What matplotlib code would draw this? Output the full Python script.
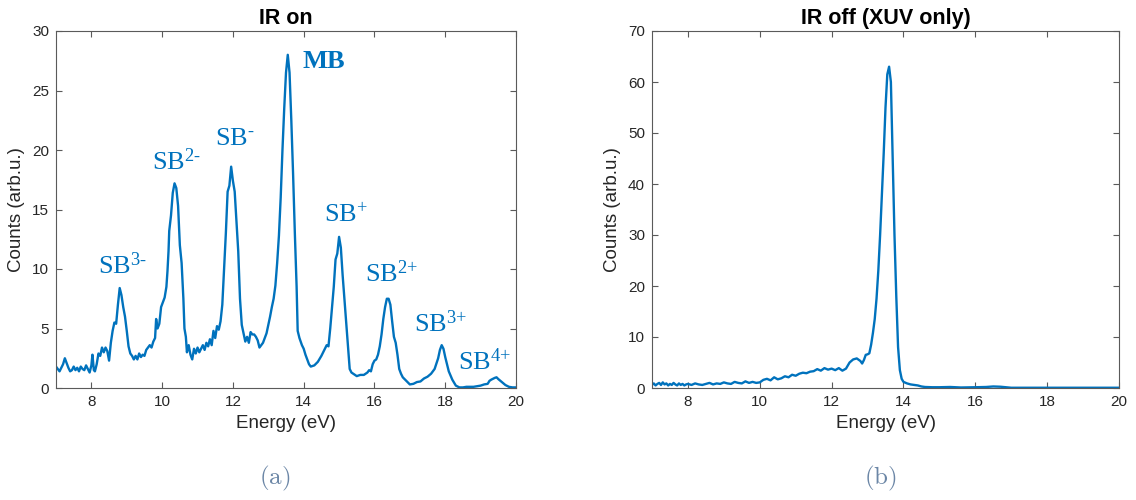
import matplotlib
matplotlib.use("Agg")
import matplotlib.pyplot as plt

# ---- data: IR on ----
energy_on = [7.0, 7.05, 7.1, 7.15, 7.2, 7.25, 7.3, 7.35, 7.4, 7.45, 7.5, 7.55, 7.6, 7.65, 7.7, 7.75,
             7.8, 7.85, 7.9, 7.95, 8.0, 8.03, 8.07, 8.1, 8.15, 8.2, 8.25, 8.3, 8.35, 8.4, 8.45, 8.5,
             8.55, 8.6, 8.65, 8.7, 8.75, 8.8, 8.85, 8.9, 8.95, 9.0, 9.05, 9.1, 9.15, 9.2, 9.25, 9.3,
             9.35, 9.4, 9.45, 9.5, 9.55, 9.6, 9.65, 9.7, 9.75, 9.8, 9.83, 9.87, 9.92, 9.97, 10.02,
             10.07, 10.12, 10.15, 10.18, 10.2, 10.25, 10.3, 10.35, 10.4, 10.45, 10.5, 10.55, 10.6,
             10.63, 10.67, 10.7, 10.75, 10.8, 10.85, 10.9, 10.95, 11.0, 11.05, 11.1, 11.15, 11.2,
             11.25, 11.3, 11.35, 11.4, 11.45, 11.5, 11.55, 11.6, 11.65, 11.7, 11.75, 11.8, 11.85,
             11.9, 11.95, 12.0, 12.05, 12.1, 12.15, 12.2, 12.25, 12.3, 12.35, 12.4, 12.45, 12.5,
             12.55, 12.6, 12.65, 12.7, 12.75, 12.8, 12.85, 12.9, 12.95, 13.0, 13.05, 13.1, 13.15,
             13.2, 13.25, 13.3, 13.35, 13.4, 13.45, 13.5, 13.55, 13.6, 13.65, 13.7, 13.75, 13.8,
             13.83, 13.88, 13.95, 14.0, 14.05, 14.1, 14.15, 14.2, 14.3, 14.4, 14.5, 14.6, 14.65,
             14.7, 14.75, 14.8, 14.85, 14.9, 14.95, 15.0, 15.05, 15.1, 15.15, 15.2, 15.25, 15.3,
             15.35, 15.4, 15.5, 15.6, 15.7, 15.8, 15.85, 15.9, 15.95, 16.0, 16.05, 16.1, 16.15,
             16.2, 16.25, 16.3, 16.35, 16.4, 16.45, 16.5, 16.55, 16.6, 16.65, 16.7, 16.75, 16.8,
             16.9, 17.0, 17.1, 17.2, 17.3, 17.4, 17.5, 17.6, 17.7, 17.8, 17.85, 17.9, 17.95, 18.0,
             18.05, 18.1, 18.2, 18.3, 18.4, 18.5, 18.6, 18.8, 18.9, 19.0, 19.1, 19.2, 19.25, 19.3,
             19.4, 19.45, 19.5, 19.6, 19.7, 19.8, 19.9, 20.0]
counts_on = [1.8, 1.6, 1.4, 1.7, 2.0, 2.5, 2.1, 1.7, 1.4, 1.5, 1.8, 1.5, 1.7, 1.4, 1.8, 1.6,
             1.5, 1.9, 1.6, 1.3, 1.9, 2.8, 1.5, 1.4, 2.0, 2.9, 2.7, 3.4, 3.0, 3.4, 3.1, 2.3,
             3.8, 4.8, 5.5, 5.4, 7.0, 8.4, 7.8, 6.8, 6.0, 4.8, 3.5, 2.9, 2.7, 2.4, 2.7, 2.4,
             2.9, 2.6, 2.8, 2.7, 3.2, 3.4, 3.6, 3.4, 3.9, 4.2, 5.8, 5.0, 5.4, 6.8, 7.2,
             7.6, 8.5, 9.8, 11.5, 13.2, 14.5, 16.4, 17.2, 16.8, 15.3, 12.0, 10.5, 7.5,
             5.0, 4.3, 3.0, 3.6, 2.8, 2.4, 3.3, 2.9, 3.4, 3.0, 3.3, 3.6, 3.2,
             3.8, 3.5, 4.1, 3.6, 4.8, 4.2, 5.2, 4.9, 5.6, 7.0, 10.0, 13.0, 16.5,
             17.0, 18.6, 17.4, 16.5, 14.0, 11.5, 7.5, 5.3, 4.6, 3.9, 4.3, 3.8, 4.7,
             4.5, 4.5, 4.3, 4.0, 3.4, 3.6, 3.8, 4.2, 4.6, 5.3, 6.0, 6.8, 7.5,
             8.6, 10.5, 12.8, 16.0, 20.0, 23.5, 26.5, 28.0, 26.5, 22.5, 18.0, 13.0, 8.5,
             4.8, 4.2, 3.6, 3.3, 2.8, 2.4, 2.0, 1.8, 1.9, 2.2, 2.7, 3.3, 3.6,
             3.5, 5.0, 6.8, 8.5, 10.8, 11.3, 12.7, 11.8, 9.5, 7.5, 5.5, 3.5, 1.6,
             1.3, 1.2, 1.0, 1.1, 1.1, 1.3, 1.5, 1.4, 2.0, 2.3, 2.4, 2.8, 3.5,
             4.5, 5.8, 6.8, 7.5, 7.5, 7.0, 5.6, 4.3, 3.8, 2.8, 1.6, 1.2, 0.9,
             0.6, 0.3, 0.35, 0.5, 0.55, 0.8, 0.95, 1.2, 1.6, 2.5, 3.2, 3.6, 3.3, 2.6,
             2.0, 1.4, 0.7, 0.2, 0.05, 0.05, 0.1, 0.1, 0.15, 0.2, 0.3, 0.35, 0.6, 0.7,
             0.85, 0.9, 0.75, 0.5, 0.25, 0.1, 0.05, 0.05]

# ---- data: IR off (XUV only) ----
energy_off = [7.0, 7.05, 7.1, 7.15, 7.2, 7.25, 7.3, 7.35, 7.4, 7.45, 7.5, 7.55, 7.6, 7.65, 7.7,
              7.75, 7.8, 7.85, 7.9, 7.95, 8.0, 8.1, 8.2, 8.3, 8.4, 8.5, 8.6, 8.7, 8.8, 8.9,
              9.0, 9.1, 9.2, 9.3, 9.4, 9.5, 9.6, 9.7, 9.8, 9.9, 10.0, 10.1, 10.2, 10.3, 10.4,
              10.5, 10.6, 10.7, 10.8, 10.9, 11.0, 11.1, 11.2, 11.3, 11.4, 11.5, 11.6, 11.7,
              11.8, 11.9, 12.0, 12.1, 12.2, 12.3, 12.4, 12.5, 12.6, 12.7, 12.8, 12.85, 12.9,
              12.95, 13.0, 13.05, 13.1, 13.15, 13.2, 13.25, 13.3, 13.35, 13.4, 13.45, 13.5,
              13.55, 13.6, 13.65, 13.7, 13.75, 13.8, 13.85, 13.9, 13.95, 14.0, 14.1, 14.2,
              14.3, 14.4, 14.5, 14.6, 14.8, 15.0, 15.3, 15.6, 16.0, 16.3, 16.5, 16.7, 17.0,
              17.5, 18.0, 18.5, 19.0, 19.5, 20.0]
counts_off = [0.6, 0.9, 0.5, 0.8, 1.0, 0.6, 1.1, 0.7, 0.9, 0.5, 0.8, 0.6, 1.0, 0.7, 0.5,
              0.9, 0.6, 0.8, 0.5, 0.7, 0.8, 0.6, 0.9, 0.7, 0.6, 0.8, 1.0, 0.7, 0.9, 0.8,
              1.1, 0.9, 0.8, 1.2, 1.0, 0.9, 1.3, 1.0, 1.2, 1.0, 1.1, 1.6, 1.8, 1.5, 2.1,
              1.7, 1.9, 2.3, 2.1, 2.6, 2.4, 2.8, 3.0, 2.9, 3.2, 3.3, 3.7, 3.4,
              3.9, 3.6, 3.8, 3.5, 3.9, 3.4, 3.8, 5.0, 5.6, 5.8, 5.3, 4.8, 5.5,
              6.5, 6.6, 6.8, 8.5, 10.8, 13.5, 17.5, 23.0, 30.0, 38.0, 46.0, 55.0,
              61.5, 63.0, 60.0, 45.0, 30.0, 18.0, 8.0, 3.5, 1.8, 1.2, 0.9, 0.7,
              0.6, 0.5, 0.3, 0.2, 0.15, 0.15, 0.2, 0.1, 0.15, 0.2, 0.3, 0.25, 0.05,
              0.05, 0.05, 0.05, 0.05, 0.05, 0.05]

# ---- peak labels (IR on) ----
label_texts = [r"$\mathrm{SB^{3\text{-}}}$", r"$\mathrm{SB^{2\text{-}}}$", r"$\mathrm{SB^{\text{-}}}$",
               r"$\mathbf{MB}$", r"$\mathrm{SB^{\text{+}}}$", r"$\mathrm{SB^{\text{2+}}}$",
               r"$\mathrm{SB^{\text{3+}}}$", r"$\mathrm{SB^{\text{4+}}}$"]
label_x = [8.89, 10.42, 12.05, 14.57, 15.19, 16.49, 17.87, 19.12]
label_y = [10.3, 19.0, 21.0, 27.5, 14.5, 9.6, 5.4, 2.2]

plt.rcParams['font.family'] = ['Liberation Sans', 'DejaVu Sans']
plt.rcParams['mathtext.fontset'] = 'custom'
plt.rcParams['mathtext.rm'] = 'Liberation Serif'
plt.rcParams['mathtext.bf'] = 'Liberation Serif:bold'
plt.rcParams['mathtext.it'] = 'Liberation Serif:italic'

LINE = '#0072BD'
AXC = '#5a5a5a'
TXT = '#262626'

fig = plt.figure(figsize=(11.36, 5.0), dpi=100)
ax1 = fig.add_axes([56/1136, 112/500, 460/1136, 357/500])
ax2 = fig.add_axes([652/1136, 112/500, 467/1136, 357/500])

ax1.plot(energy_on, counts_on, color=LINE, lw=1.7)
ax2.plot(energy_off, counts_off, color=LINE, lw=1.7)

for ax, ymax, yt, title in [(ax1, 30, range(0, 31, 5), 'IR on'),
                            (ax2, 70, range(0, 71, 10), 'IR off (XUV only)')]:
    ax.set_xlim(7, 20)
    ax.set_ylim(0, ymax)
    ax.set_xticks(range(8, 21, 2))
    ax.set_yticks(list(yt))
    ax.tick_params(direction='in', top=True, right=True, length=4, width=0.8,
                   color=AXC, labelcolor=TXT, labelsize=11, pad=5)
    for s in ax.spines.values():
        s.set_color(AXC)
        s.set_linewidth(0.8)
    ax.set_xlabel('Energy (eV)', fontsize=13.5, color=TXT, labelpad=4)
    ax.set_ylabel('Counts (arb.u.)', fontsize=13.5, color=TXT, labelpad=5)
    ax.set_title(title, fontsize=15.5, fontweight='bold', color='black', pad=5)

for t, x, y in zip(label_texts, label_x, label_y):
    ax1.text(x, y, t, color=LINE, fontsize=19, ha='center', va='center')

fig.text(275/1136, 1 - 478/500, r'$\mathrm{(a)}$', math_fontfamily='cm',
         fontsize=18, color='#6b86a6', ha='center', va='center')
fig.text(880/1136, 1 - 478/500, r'$\mathrm{(b)}$', math_fontfamily='cm',
         fontsize=18, color='#6b86a6', ha='center', va='center')

fig.savefig('out.png', dpi=100)
